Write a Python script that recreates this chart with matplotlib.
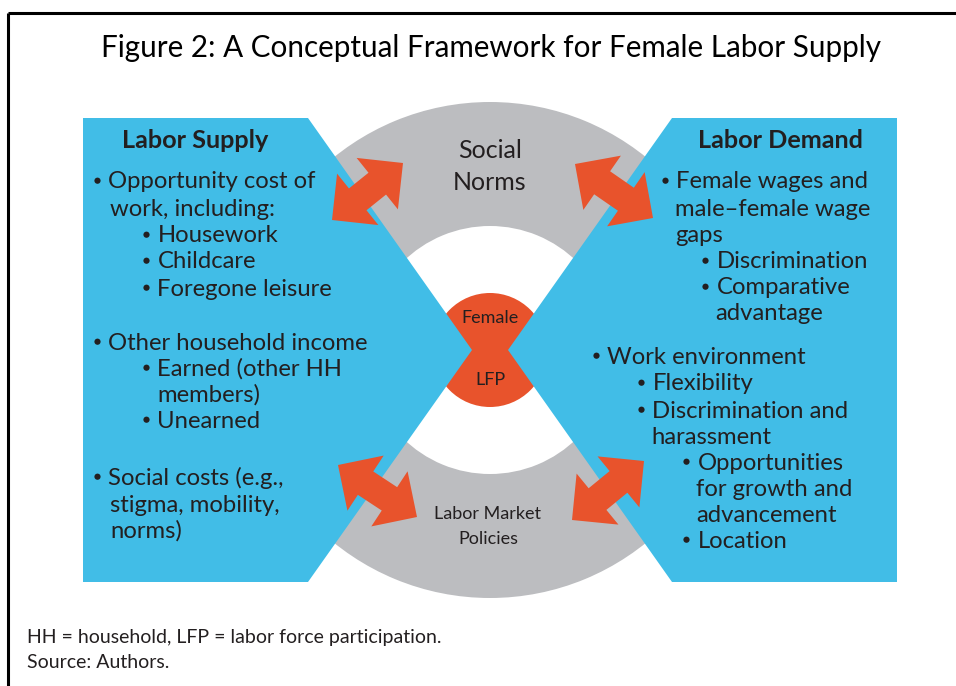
import numpy as np
import matplotlib
matplotlib.use("Agg")
import matplotlib.pyplot as plt
from matplotlib import patches

# ---- content ----
title = "Figure 2: A Conceptual Framework for Female Labor Supply"
left_heading = "Labor Supply"
right_heading = "Labor Demand"
left_lines = [
    (0, "• Opportunity cost of", 182),
    (1, "work, including:", 209),
    (2, "• Housework", 236),
    (2, "• Childcare", 262),
    (2, "• Foregone leisure", 289),
    (0, "• Other household income", 343),
    (2, "• Earned (other HH", 369),
    (3, "members)", 395),
    (2, "• Unearned", 421),
    (0, "• Social costs (e.g.,", 478),
    (1, "stigma, mobility,", 505),
    (1, "norms)", 531),
]
right_lines = [
    (0, "• Female wages and", 182),
    (1, "male–female wage", 209),
    (1, "gaps", 235),
    (2, "• Discrimination", 262),
    (2, "• Comparative", 288),
    (3, "advantage", 314),
    (4, "• Work environment", 357),
    (5, "• Flexibility", 384),
    (5, "• Discrimination and", 411),
    (6, "harassment", 437),
    (7, "• Opportunities", 463),
    (8, "for growth and", 489),
    (8, "advancement", 515),
    (7, "• Location", 541),
]
center_top = ["Social", "Norms"]
center_mid = ["Female", "LFP"]
center_bottom = ["Labor Market", "Policies"]
notes = ["HH = household, LFP = labor force participation.", "Source: Authors."]

# ---- style ----
BLUE = "#41bde7"
GRAY = "#bcbdc0"
RED = "#e8532c"
TXT = "#231f20"
FONT = "Lato"
BODY = 17.2

left_x = {0: 93, 1: 110, 2: 142, 3: 157}
right_x = {0: 661, 1: 675, 2: 701, 3: 715, 4: 592, 5: 637, 6: 651, 7: 682, 8: 696}

fig = plt.figure(figsize=(9.56, 6.86), dpi=100)
ax = fig.add_axes([0, 0, 1, 1])
ax.set_xlim(0, 956)
ax.set_ylim(686, 0)
ax.axis("off")

# frame lines
ax.plot([8, 956], [13, 13], color="black", lw=2.2, solid_capstyle="butt")
ax.plot([8, 8], [13, 686], color="black", lw=2.2, solid_capstyle="butt")

cx, cy = 490, 350
ax.add_patch(patches.Wedge((cx, cy), 248, 0, 360, width=124, facecolor=GRAY, edgecolor="none", zorder=1))
ax.add_patch(patches.Circle((cx, cy), 57, facecolor=RED, edgecolor="none", zorder=2))

left_poly = [(83, 118), (308, 118), (472, 350), (308, 582), (83, 582)]
right_poly = [(897, 118), (672, 118), (508, 350), (672, 582), (897, 582)]
ax.add_patch(patches.Polygon(left_poly, closed=True, facecolor=BLUE, edgecolor="none", zorder=3))
ax.add_patch(patches.Polygon(right_poly, closed=True, facecolor=BLUE, edgecolor="none", zorder=3))


def double_arrow(p1, p2, hl=33, hw=66, sw=28):
    p1 = np.array(p1, float)
    p2 = np.array(p2, float)
    u = (p2 - p1) / np.linalg.norm(p2 - p1)
    n = np.array([-u[1], u[0]])
    a = p1 + u * hl
    b = p2 - u * hl
    pts = [p1, a + n * hw / 2, a + n * sw / 2, b + n * sw / 2, b + n * hw / 2, p2,
           b - n * hw / 2, b - n * sw / 2, a - n * sw / 2, a - n * hw / 2]
    ax.add_patch(patches.Polygon(pts, closed=True, facecolor=RED, edgecolor="none", zorder=4))


double_arrow((332, 220), (403, 163))
double_arrow((653, 218), (575, 164))
double_arrow((338, 465), (417, 517))
double_arrow((644, 461), (572, 520))


def body_text(x, y, s):
    if s.startswith("• "):
        ax.add_patch(patches.Circle((x + 4.5, y - 1.3), 3.1, facecolor=TXT, edgecolor="none", zorder=5))
        ax.text(x + 15.5, y, s[2:], ha="left", va="center", fontsize=BODY, color=TXT, family=FONT, zorder=5)
    else:
        ax.text(x, y, s, ha="left", va="center", fontsize=BODY, color=TXT, family=FONT, zorder=5)


# texts
ax.text(491, 48, title, ha="center", va="center", fontsize=21.3, color="black", family=FONT)
ax.text(195, 140, left_heading, ha="center", va="center", fontsize=18.2, fontweight="bold", color=TXT, family=FONT, zorder=5)
ax.text(780, 140, right_heading, ha="center", va="center", fontsize=18.2, fontweight="bold", color=TXT, family=FONT, zorder=5)
for lvl, s, y in left_lines:
    body_text(left_x[lvl], y, s)
for lvl, s, y in right_lines:
    body_text(right_x[lvl], y, s)

for s, y in zip(center_top, [151, 182]):
    ax.text(490, y, s, ha="center", va="center", fontsize=18, color=TXT, family=FONT, zorder=5)
for s, y in zip(center_mid, [318, 380]):
    ax.text(490, y, s, ha="center", va="center", fontsize=13, color=TXT, family=FONT, zorder=5)
for s, y in zip(center_bottom, [514, 539]):
    ax.text(488, y, s, ha="center", va="center", fontsize=13, color=TXT, family=FONT, zorder=5)
for s, y in zip(notes, [638, 663]):
    ax.text(27, y, s, ha="left", va="center", fontsize=14, color=TXT, family=FONT)

fig.savefig("out.png", dpi=100)
